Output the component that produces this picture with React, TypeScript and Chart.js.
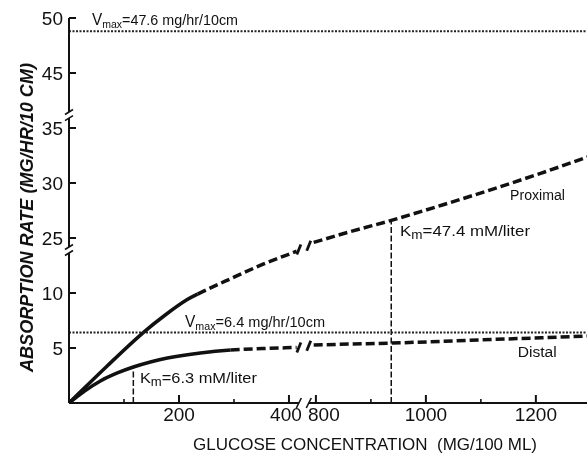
import React, { useEffect, useRef } from "react";
import { Chart, registerables } from "chart.js";

Chart.register(...registerables);

// ---- data (real values: glucose mg/100 ml, absorption mg/hr/10 cm) ----
const proximalLowX = [0, 68, 135, 175, 215, 234, 294, 352, 414];
const proximalLowY = [0, 3.3, 6.4, 8.0, 9.4, 9.9, 11.3, 12.6, 13.8];
const proximalHighX = [796, 864, 937, 1030, 1119, 1210, 1296];
const proximalHighY = [24.6, 25.6, 26.6, 28.0, 29.4, 30.9, 32.4];
const distalLowX = [0, 29, 57, 88, 117, 148, 179, 239, 294, 352, 414];
const distalLowY = [0, 1.1, 2.0, 2.73, 3.27, 3.73, 4.09, 4.55, 4.82, 4.95, 5.05];
const distalHighX = [796, 864, 937, 1030, 1119, 1210, 1296];
const distalHighY = [5.27, 5.36, 5.45, 5.6, 5.77, 5.93, 6.09];
const proximalMeasuredMax = 234;
const distalMeasuredMax = 294;
const vmaxProximalLevel = 48.8;
const vmaxDistalLevel = 6.4;
const kmDistal = [117, 3.27];
const kmProximal = [937, 26.6];

const yTickValues = [5, 10, 25, 30, 35, 45, 50];
const yTickLabels = ["5", "10", "25", "30", "35", "45", "50"];
const xMajorTicks = [200, 400, 800, 1000, 1200];
const xMajorLabels = ["200", "400", "800", "1000", "1200"];
const xMinorTicks = [100, 300, 900, 1100];

// broken axes
const X_GAP = 351;
const yAxisSegments = [
  [0, 13.64],
  [24.18, 35.9],
  [41.45, 50],
];
const yAxisBreakEnds = [13.64, 24.18, 35.9, 41.45];
const xAxisSegments = [
  [0, 418],
  [787, 1293],
];
const xAxisBreakEnds = [418, 787];
const curveBreakMarks = [
  [418, 13.95],
  [787, 24.3],
  [418, 5.05],
  [787, 5.2],
];

const xDisp = (v: number) => (v <= 600 ? v : v - X_GAP);
const yDisp = (v: number) => (v <= 20 ? v : v <= 40 ? v - 10 : v - 15);

const INK = "#111";
const FONT = '"Liberation Sans", Arial, sans-serif';

const pts = (xs: number[], ys: number[]) => xs.map((x, i) => ({ x: xDisp(x), y: yDisp(ys[i]) }));

type Part = { t: string; size: number; dy?: number; style?: string };

function richText(ctx: CanvasRenderingContext2D, parts: Part[], x: number, baseline: number, targetW?: number) {
  let w = 0;
  const widths: number[] = [];
  for (const p of parts) {
    ctx.font = `${p.style || ""} ${p.size}px ${FONT}`;
    const m = ctx.measureText(p.t).width;
    widths.push(m);
    w += m;
  }
  const s = targetW ? targetW / w : 1;
  ctx.save();
  ctx.translate(x, baseline);
  ctx.scale(s, 1);
  ctx.textAlign = "left";
  ctx.textBaseline = "alphabetic";
  let cx = 0;
  parts.forEach((p, i) => {
    ctx.font = `${p.style || ""} ${p.size}px ${FONT}`;
    ctx.fillText(p.t, cx, p.dy || 0);
    cx += widths[i];
  });
  ctx.restore();
}

const decorPlugin = {
  id: "decor",
  afterDatasetsDraw(chart: any) {
    const ctx: CanvasRenderingContext2D = chart.ctx;
    const xs = chart.scales.x;
    const ys = chart.scales.y;
    const px = (v: number) => xs.getPixelForValue(xDisp(v));
    const py = (v: number) => ys.getPixelForValue(yDisp(v));
    const x0 = px(0);
    const y0 = py(0);
    ctx.save();
    ctx.strokeStyle = INK;
    ctx.fillStyle = INK;
    ctx.lineCap = "butt";
    const seg = (a: number, b: number, c: number, d: number, w: number) => {
      ctx.lineWidth = w;
      ctx.beginPath();
      ctx.moveTo(a, b);
      ctx.lineTo(c, d);
      ctx.stroke();
    };
    for (const [a, b] of yAxisSegments) seg(x0, py(a), x0, py(b), 2);
    for (const v of yAxisBreakEnds) seg(x0 - 4, py(v) + 2.5, x0 + 4, py(v) - 2.5, 1.6);
    for (const [a, b] of xAxisSegments) seg(px(a), y0, px(b), y0, 2);
    for (const v of xAxisBreakEnds) seg(px(v) - 2.5, y0 + 5, px(v) + 2.5, y0 - 5, 1.6);
    for (const v of yTickValues) seg(x0, py(v), x0 + 7, py(v), 2);
    for (const v of xMajorTicks) seg(px(v), y0, px(v), y0 - 8, 2);
    for (const v of xMinorTicks) seg(px(v), y0, px(v), y0 - 4, 1.6);
    for (const [x, y] of curveBreakMarks) seg(px(x) - 2, py(y) + 5, px(x) + 2, py(y) - 5, 2.8);

    // tick labels
    ctx.font = `19px ${FONT}`;
    ctx.textAlign = "right";
    ctx.textBaseline = "alphabetic";
    yTickValues.forEach((v, i) => ctx.fillText(yTickLabels[i], x0 - 6, py(v) + 7));
    ctx.textAlign = "center";
    const nudge: Record<string, number> = { "400": -3, "800": 8 };
    xMajorTicks.forEach((v, i) => ctx.fillText(xMajorLabels[i], px(v) + (nudge[xMajorLabels[i]] || 0), y0 + 18));

    // annotations
    const at = (xd: number, yd: number) => [xs.getPixelForValue(xd), ys.getPixelForValue(yd)];
    let p = at(41.8, 34.36);
    richText(ctx, [{ t: "V", size: 16 }, { t: "max", size: 11, dy: 3 }, { t: "=47.6 mg/hr/10cm", size: 15 }], p[0], p[1], 146);
    p = at(211, 6.91);
    richText(ctx, [{ t: "V", size: 16 }, { t: "max", size: 11, dy: 3 }, { t: "=6.4 mg/hr/10cm", size: 15 }], p[0], p[1], 140);
    p = at(129, 1.82);
    richText(ctx, [{ t: "K", size: 15 }, { t: "m", size: 12, dy: 3 }, { t: "=6.3 mM/liter", size: 15 }], p[0], p[1], 117);
    p = at(602, 15.18);
    richText(ctx, [{ t: "K", size: 15 }, { t: "m", size: 12, dy: 3 }, { t: "=47.4 mM/liter", size: 15 }], p[0], p[1], 130);
    p = at(802, 18.45);
    richText(ctx, [{ t: "Proximal", size: 14 }], p[0], p[1], 55);
    p = at(816, 4.18);
    richText(ctx, [{ t: "Distal", size: 14 }], p[0], p[1], 39);

    // axis titles
    const xt = "GLUCOSE CONCENTRATION  (MG/100 ML)";
    richText(ctx, [{ t: xt, size: 17 }], 193, 450, 344);
    ctx.save();
    ctx.translate(33, 217.5);
    ctx.rotate(-Math.PI / 2);
    const yt = "ABSORPTION RATE (MG/HR/10 CM)";
    richText(ctx, [{ t: yt, size: 18, style: "italic bold" }], -154.5, 0, 309);
    ctx.restore();
    ctx.restore();
  },
};

export default function App() {
  const ref = useRef<HTMLCanvasElement>(null);
  useEffect(() => {
    const curve = (data: any[], solidUntil: number | null) => ({
      data,
      borderColor: INK,
      borderWidth: 3.5,
      pointRadius: 0,
      cubicInterpolationMode: "monotone",
      borderCapStyle: "butt",
      borderDash: solidUntil === null ? [9, 4] : [],
      segment:
        solidUntil === null
          ? undefined
          : { borderDash: (c: any) => (c.p0.parsed.x >= xDisp(solidUntil) - 0.01 ? [9, 4] : undefined) },
    });
    const ref2 = (y: number) => ({
      data: [
        { x: 0, y: yDisp(y) },
        { x: xDisp(1293), y: yDisp(y) },
      ],
      borderColor: "#222",
      borderWidth: 2,
      borderDash: [2, 1.5],
      pointRadius: 0,
    });
    const vline = (k: number[]) => ({
      data: [
        { x: xDisp(k[0]), y: 0 },
        { x: xDisp(k[0]), y: yDisp(k[1]) },
      ],
      borderColor: INK,
      borderWidth: 1.5,
      borderDash: [6, 2.5],
      pointRadius: 0,
    });
    const chart = new Chart(ref.current as HTMLCanvasElement, {
      type: "line",
      data: {
        datasets: [
          ref2(vmaxProximalLevel),
          ref2(vmaxDistalLevel),
          vline(kmDistal),
          vline(kmProximal),
          curve(pts(proximalLowX, proximalLowY), proximalMeasuredMax),
          curve(pts(proximalHighX, proximalHighY), null),
          curve(pts(distalLowX, distalLowY), distalMeasuredMax),
          curve(pts(distalHighX, distalHighY), null),
        ] as any,
      },
      options: {
        responsive: false,
        animation: false,
        events: [],
        layout: { padding: { left: 69, right: 0, top: 18, bottom: 60 } },
        scales: {
          x: { type: "linear", min: 0, max: 942, display: false },
          y: { type: "linear", min: 0, max: 35, display: false },
        },
        plugins: { legend: { display: false }, tooltip: { enabled: false } },
      } as any,
      plugins: [decorPlugin],
    });
    return () => chart.destroy();
  }, []);
  return (
    <div style={{ position: "absolute", left: 0, top: 0, width: 587, height: 463, background: "#fff" }}>
      <canvas ref={ref} width={587} height={463} style={{ display: "block" }} />
    </div>
  );
}
